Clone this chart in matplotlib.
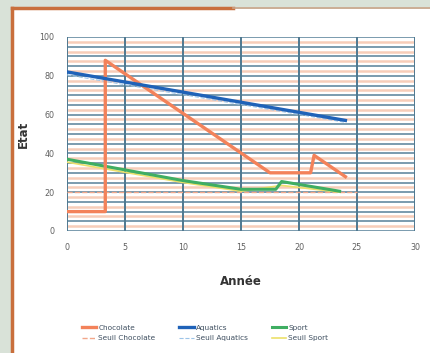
import matplotlib
matplotlib.use("Agg")
import matplotlib.pyplot as plt
from matplotlib.patches import Rectangle
from matplotlib.lines import Line2D

# Series data
choc_x = [0, 3.3, 3.3, 17.5, 21.0, 21.3, 24.0]
choc_y = [10, 10, 88, 30, 30, 39, 28]
aqua_x = [0, 24]
aqua_y = [82, 57]
sport_x = [0, 10, 15, 18, 18.5, 23.5]
sport_y = [37, 26, 21.5, 21.5, 25.5, 20.5]
seuil_choc_x = [0, 25]
seuil_choc_y = [20, 20]
seuil_aqua_x = [0, 24]
seuil_aqua_y = [80.5, 56]
seuil_sport_x = [0, 10, 15, 18.5, 23.5]
seuil_sport_y = [35.5, 25, 20.5, 23.5, 20]

x_ticks = [0, 5, 10, 15, 20, 25, 30]
y_ticks = [0, 20, 40, 60, 80, 100]

W, H = 430, 353
fig = plt.figure(figsize=(W / 100, H / 100), dpi=100)
fig.patch.set_facecolor("#d9e2d8")

# white panel with orange frame
fig.add_artist(Rectangle((13 / W, 0), 1 - 13 / W, 1 - 9 / H, transform=fig.transFigure,
                         facecolor="white", edgecolor="none", zorder=0))
fig.add_artist(Line2D([12 / W, 12 / W], [0, 1 - 8 / H], transform=fig.transFigure,
                      color="#c96f3c", lw=2.5))
fig.add_artist(Line2D([12 / W, 233 / W], [1 - 8 / H, 1 - 8 / H], transform=fig.transFigure,
                      color="#c96f3c", lw=2.5))
fig.add_artist(Line2D([233 / W, 1], [1 - 8 / H, 1 - 8 / H], transform=fig.transFigure,
                      color="#c9a58a", lw=1.2))

ax = fig.add_axes([67 / W, 1 - 231 / H, (415 - 67) / W, (231 - 37) / H])
ax.set_facecolor("white")
ax.set_xlim(0, 30)
ax.set_ylim(0, 100)
ax.set_xticks(x_ticks)
ax.set_yticks(y_ticks)

# striped grid: salmon between, blue-grey every 5 units
for i in range(20):
    ax.axhline(i * 5 + 2.5, color="#f7cdb9", lw=1.8, zorder=0.5)
for i in range(21):
    ax.axhline(i * 5, color="#6f93a8", lw=1.3, zorder=1)
for v in x_ticks:
    ax.axvline(v, color="#4f7890", lw=1.4, zorder=1.2)
for s in ax.spines.values():
    s.set_visible(False)
ax.tick_params(which="both", length=0, labelsize=5.8, labelcolor="#606060", pad=9)

ax.plot(seuil_choc_x, seuil_choc_y, color="#f2a78a", lw=1.0, ls="--", zorder=2, label="Seuil Chocolate")
ax.plot(seuil_aqua_x, seuil_aqua_y, color="#9cc4e8", lw=0.8, ls="--", zorder=2, label="Seuil Aquatics")
ax.plot(seuil_sport_x, seuil_sport_y, color="#ece06a", lw=1.2, zorder=2, label="Seuil Sport")
ax.plot(choc_x, choc_y, color="#f3825a", lw=2.4, zorder=4, label="Chocolate")
ax.plot(aqua_x, aqua_y, color="#1f62b8", lw=2.4, zorder=4, label="Aquatics")
ax.plot(sport_x, sport_y, color="#3fae62", lw=2.2, zorder=3, label="Sport")

ax.set_xlabel("Année", fontsize=8.5, fontweight="bold", color="#333333", labelpad=16)
ax.set_ylabel("Etat", fontsize=8.5, fontweight="bold", color="#333333", labelpad=7)

handles, labels = ax.get_legend_handles_labels()
order = ["Chocolate", "Seuil Chocolate", "Aquatics", "Seuil Aquatics", "Sport", "Seuil Sport"]
hmap = dict(zip(labels, handles))
fig.legend([hmap[k] for k in order], order, loc="center", ncol=3,
           bbox_to_anchor=(205 / W, 1 - 333 / H), frameon=False, fontsize=5.3,
           labelcolor="#3f4f60", handlelength=2.0, columnspacing=3.2,
           labelspacing=0.6, handletextpad=0.3)

fig.savefig("out.png", dpi=100, facecolor=fig.get_facecolor())
